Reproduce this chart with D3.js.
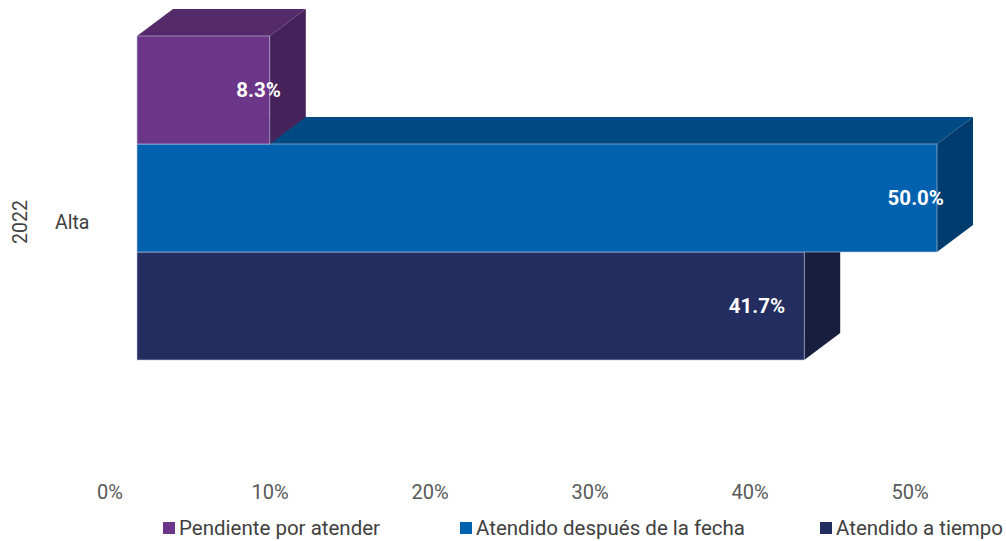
<!DOCTYPE html>
<html>
<head>
<meta charset="utf-8">
<script src="https://cdn.jsdelivr.net/npm/d3@7"></script>
<style>
  body { margin: 0; background: #fff; }
  svg { font-family: Roboto, "Noto Sans", sans-serif; }
</style>
</head>
<body>
<div id="chart"></div>
<script>
// data
var year = "2022";
var categories = ["Alta"];
var series = ["Pendiente por atender", "Atendido después de la fecha", "Atendido a tiempo"];
var values = [8.3, 50.0, 41.7];
var tickValues = [0, 10, 20, 30, 40, 50];

var frontColors = ["#6b3687", "#0061ae", "#232d60"];
var topColors = ["#542a6b", "#004a84", "#1c244d"];
var sideColors = ["#45235a", "#003d6e", "#181f3e"];
var labelShift = [11, 7, -19];

var width = 1006, height = 541;
var depthX = 36, depthY = -27;

var svg = d3.select("#chart").append("svg")
  .attr("width", width)
  .attr("height", height);

var x = d3.scaleLinear().domain([0, 50]).range([137, 937]);
var y = d3.scaleBand().domain(series).range([36, 360]).padding(0);

// bars, drawn bottom-up so the upper ones cover the lower tops
var order = d3.range(series.length).reverse();
order.forEach(function(i) {
  var x0 = x(0), x1 = x(values[i]);
  var y0 = y(series[i]), y1 = y0 + y.bandwidth();
  var g = svg.append("g");
  g.append("polygon")
    .attr("points", [[x0, y0], [x0 + depthX, y0 + depthY], [x1 + depthX, y0 + depthY], [x1, y0]].join(" "))
    .style("fill", topColors[i]);
  g.append("polygon")
    .attr("points", [[x1, y0], [x1 + depthX, y0 + depthY], [x1 + depthX, y1 + depthY], [x1, y1]].join(" "))
    .style("fill", sideColors[i]);
  g.append("rect")
    .attr("x", x0).attr("y", y0)
    .attr("width", x1 - x0).attr("height", y1 - y0)
    .style("fill", frontColors[i])
    .style("stroke", "#c0c8dc")
    .style("stroke-width", 0.6);
});

// value labels
series.forEach(function(s, i) {
  svg.append("text")
    .attr("x", x(values[i]) + labelShift[i])
    .attr("y", y(s) + y.bandwidth() / 2)
    .attr("dy", "0.35em")
    .attr("text-anchor", "end")
    .style("fill", "#fff")
    .style("font-weight", "bold")
    .style("font-size", "20.5px")
    .text(values[i].toFixed(1) + "%");
});

// axis tick labels (sit on the floor, shifted back by the depth)
svg.selectAll(".tick-label")
  .data(tickValues)
  .enter()
  .append("text")
    .attr("class", "tick-label")
    .attr("x", function(d) { return x(d) - 27; })
    .attr("y", 499)
    .attr("text-anchor", "middle")
    .style("fill", "#595959")
    .style("font-size", "20px")
    .text(function(d) { return d + "%"; });

// category labels
svg.append("text")
  .attr("x", 55)
  .attr("y", 222)
  .attr("dy", "0.35em")
  .style("fill", "#404040")
  .style("font-size", "19.5px")
  .text(categories[0]);

svg.append("text")
  .attr("transform", "translate(27,222) rotate(-90)")
  .attr("text-anchor", "middle")
  .style("fill", "#404040")
  .style("font-size", "19.5px")
  .text(year);

// legend
var legendX = [163, 460, 820];
var legend = svg.selectAll(".legend")
  .data(series)
  .enter()
  .append("g")
    .attr("class", "legend")
    .attr("transform", function(d, i) { return "translate(" + legendX[i] + ",522)"; });
legend.append("rect")
  .attr("width", 12).attr("height", 12)
  .style("fill", function(d, i) { return frontColors[i]; });
legend.append("text")
  .attr("x", 16)
  .attr("y", 6)
  .attr("dy", "0.35em")
  .style("fill", "#404040")
  .style("font-size", "20.5px")
  .text(function(d) { return d; });
</script>
</body>
</html>
